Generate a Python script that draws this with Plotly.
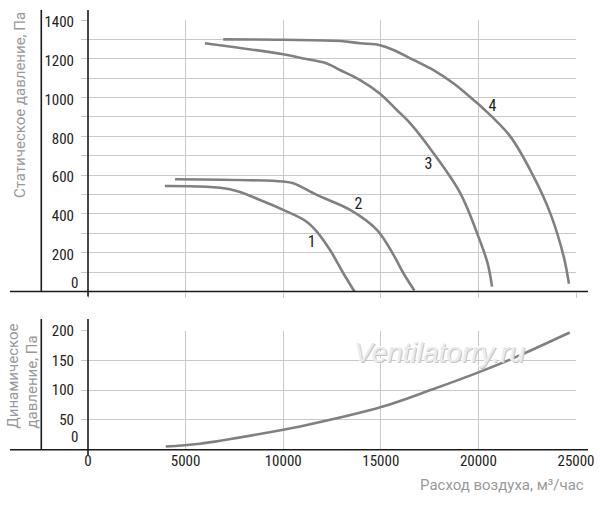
import plotly.graph_objects as go
from plotly.subplots import make_subplots

# static pressure curves: Q [m3/h] / P [Pa]
q1 = [3940, 7270, 8810, 10000, 11200, 11720, 12400, 13080, 13650]
p1 = [544, 527, 472, 421, 360, 309, 214, 94, 0]
q2 = [4460, 10000, 10520, 11720, 13430, 14800, 15650, 16160, 16720]
p2 = [579, 567, 558, 498, 421, 318, 189, 94, 5]
q3 = [5990, 10000, 11030, 12230, 12910, 13940, 14960, 15820, 16500, 17700, 19070, 20000, 20470, 20700]
p3 = [1280, 1223, 1202, 1176, 1142, 1090, 1020, 936, 868, 713, 507, 283, 146, 25]
q4 = [6930, 10000, 12910, 13940, 14960, 15650, 16670, 17700, 18720, 19750, 20180, 21630, 22830, 23680, 24370, 24640]
p4 = [1300, 1298, 1292, 1280, 1270, 1245, 1194, 1142, 1074, 988, 950, 800, 592, 404, 180, 40]

# curve numbers and where they sit
curveName = ['1', '2', '3', '4']
nameQ = [11460, 13850, 17440, 20720]
nameP = [249, 445, 653, 950]

# dynamic pressure
qd = [3980, 5730, 10000, 10870, 15020, 17700, 20000, 21800, 24680]
pd_ = [5.5, 10, 33.5, 39, 71.6, 102, 130, 154, 197]

xTick = [0, 5000, 10000, 15000, 20000, 25000]
sTick = list(range(0, 1401, 100))
dTick = [0, 50, 100, 150, 200]

W, H = 600, 505
FONT = 'Liberation Sans Narrow, Roboto Condensed, Roboto, sans-serif'
TFONT = 'Roboto, Open Sans, sans-serif'
GRID = '#c8c8c8'; LINE = '#808080'; TITLE = '#999999'

# plot boxes in pixels (left, right, top, bottom)
xL, xR = 88, 576
topT, topB = 20, 291.5
botT, botB = 330.7, 449.7


def px(x): return x / W
def py(y): return (H - y) / H


fig = make_subplots(rows=2, cols=1, shared_xaxes=False)

curve = dict(color=LINE, width=2.6, shape='spline', smoothing=1.0)
for q, p in ((q1, p1), (q2, p2), (q3, p3), (q4, p4)):
    fig.add_trace(go.Scatter(x=q, y=p, mode='lines', line=curve, showlegend=False, hoverinfo='skip'), 1, 1)
fig.add_trace(go.Scatter(x=nameQ, y=nameP, mode='text', text=curveName, showlegend=False, hoverinfo='skip',
                         textfont=dict(family=FONT, size=16, color='#222')), 1, 1)
fig.add_trace(go.Scatter(x=qd, y=pd_, mode='lines', line=curve, showlegend=False, hoverinfo='skip'), 2, 1)

axX = dict(range=[0, 25000], tickvals=xTick, showgrid=True, gridcolor=GRID, gridwidth=1.2, zeroline=False,
           showline=False, domain=[px(xL), px(xR)])
fig.update_xaxes(**axX, showticklabels=False, ticks='outside', ticklen=5, tickcolor=GRID, row=1, col=1)
fig.update_xaxes(**axX, ticks='', ticktext=[str(v) for v in xTick],
                 tickfont=dict(family=FONT, size=15, color='#222'), row=2, col=1)

axY = dict(showgrid=True, gridcolor=GRID, gridwidth=1.2, zeroline=False, showline=False, ticks='outside',
           ticklen=6, tickcolor=GRID, tickfont=dict(family=FONT, size=15, color='#222'), ticklabelstandoff=4)
fig.update_yaxes(**axY, range=[0, 1400], tickvals=sTick,
                 ticktext=['' if v == 0 or v % 200 else str(v) for v in sTick],
                 ticklabelshift=2, domain=[py(topB), py(topT)], row=1, col=1)
fig.update_yaxes(**axY, range=[0, 200], tickvals=dTick, ticktext=['' if v == 0 else str(v) for v in dTick],
                 domain=[py(botB), py(botT)], row=2, col=1)

# black frame lines
blk = dict(type='line', xref='paper', yref='paper', line=dict(color='#1a1a1a', width=1.6))
fig.add_shape(**blk, x0=px(10), x1=px(588), y0=py(topB), y1=py(topB))
fig.add_shape(**blk, x0=px(10), x1=px(588), y0=py(botB), y1=py(botB))
fig.add_shape(**blk, x0=px(41.3), x1=px(41.3), y0=py(topB), y1=py(10))
fig.add_shape(**blk, x0=px(41.3), x1=px(41.3), y0=py(botB), y1=py(319))
fig.add_shape(**blk, x0=px(xL), x1=px(xL), y0=py(296.5), y1=py(10))
fig.add_shape(**blk, x0=px(xL), x1=px(xL), y0=py(455), y1=py(319))

ann = [
    dict(text='0', x=px(80), y=0, xref='paper', yref='y', xanchor='right', yanchor='middle', yshift=9,
         showarrow=False, font=dict(family=FONT, size=15, color='#222')),
    dict(text='0', x=px(80), y=0, xref='paper', yref='y2', xanchor='right', yanchor='middle', yshift=13,
         showarrow=False, font=dict(family=FONT, size=15, color='#222')),
    dict(text='Статическое давление, Па', x=px(20), y=py(10), xref='paper', yref='paper', textangle=-90,
         xanchor='center', yanchor='top', showarrow=False, font=dict(family=TFONT, size=15, color=TITLE)),
    dict(text='Динамическое<br>давление, Па', x=px(22), y=py(431), xref='paper', yref='paper', textangle=-90,
         xanchor='center', yanchor='bottom', align='left', showarrow=False,
         font=dict(family=TFONT, size=15, color=TITLE)),
    dict(text='Расход воздуха, м³/час', x=px(586), y=py(485), xref='paper', yref='paper',
         xanchor='right', yanchor='middle', showarrow=False, font=dict(family=TFONT, size=15, color=TITLE)),
    dict(text='<i>Ventilatorry.ru</i>', x=18040, y=164, xref='x2', yref='y2', xanchor='center', yanchor='middle',
         showarrow=False, font=dict(family='Liberation Sans, Arial, sans-serif', size=28, color='#ebebeb',
                                    shadow='1px 1px 0px #c4c4c4, -1px -1px 0px #ffffff')),
]
fig.update_layout(width=W, height=H, margin=dict(l=0, r=0, t=0, b=0, autoexpand=False),
                  paper_bgcolor='white', plot_bgcolor='white', annotations=ann)

# page body has a default 8px margin; drop it so the figure fills the window
fig.write_html('out.html', config={'displayModeBar': False},
               post_script='document.body.style.margin = "0";')
